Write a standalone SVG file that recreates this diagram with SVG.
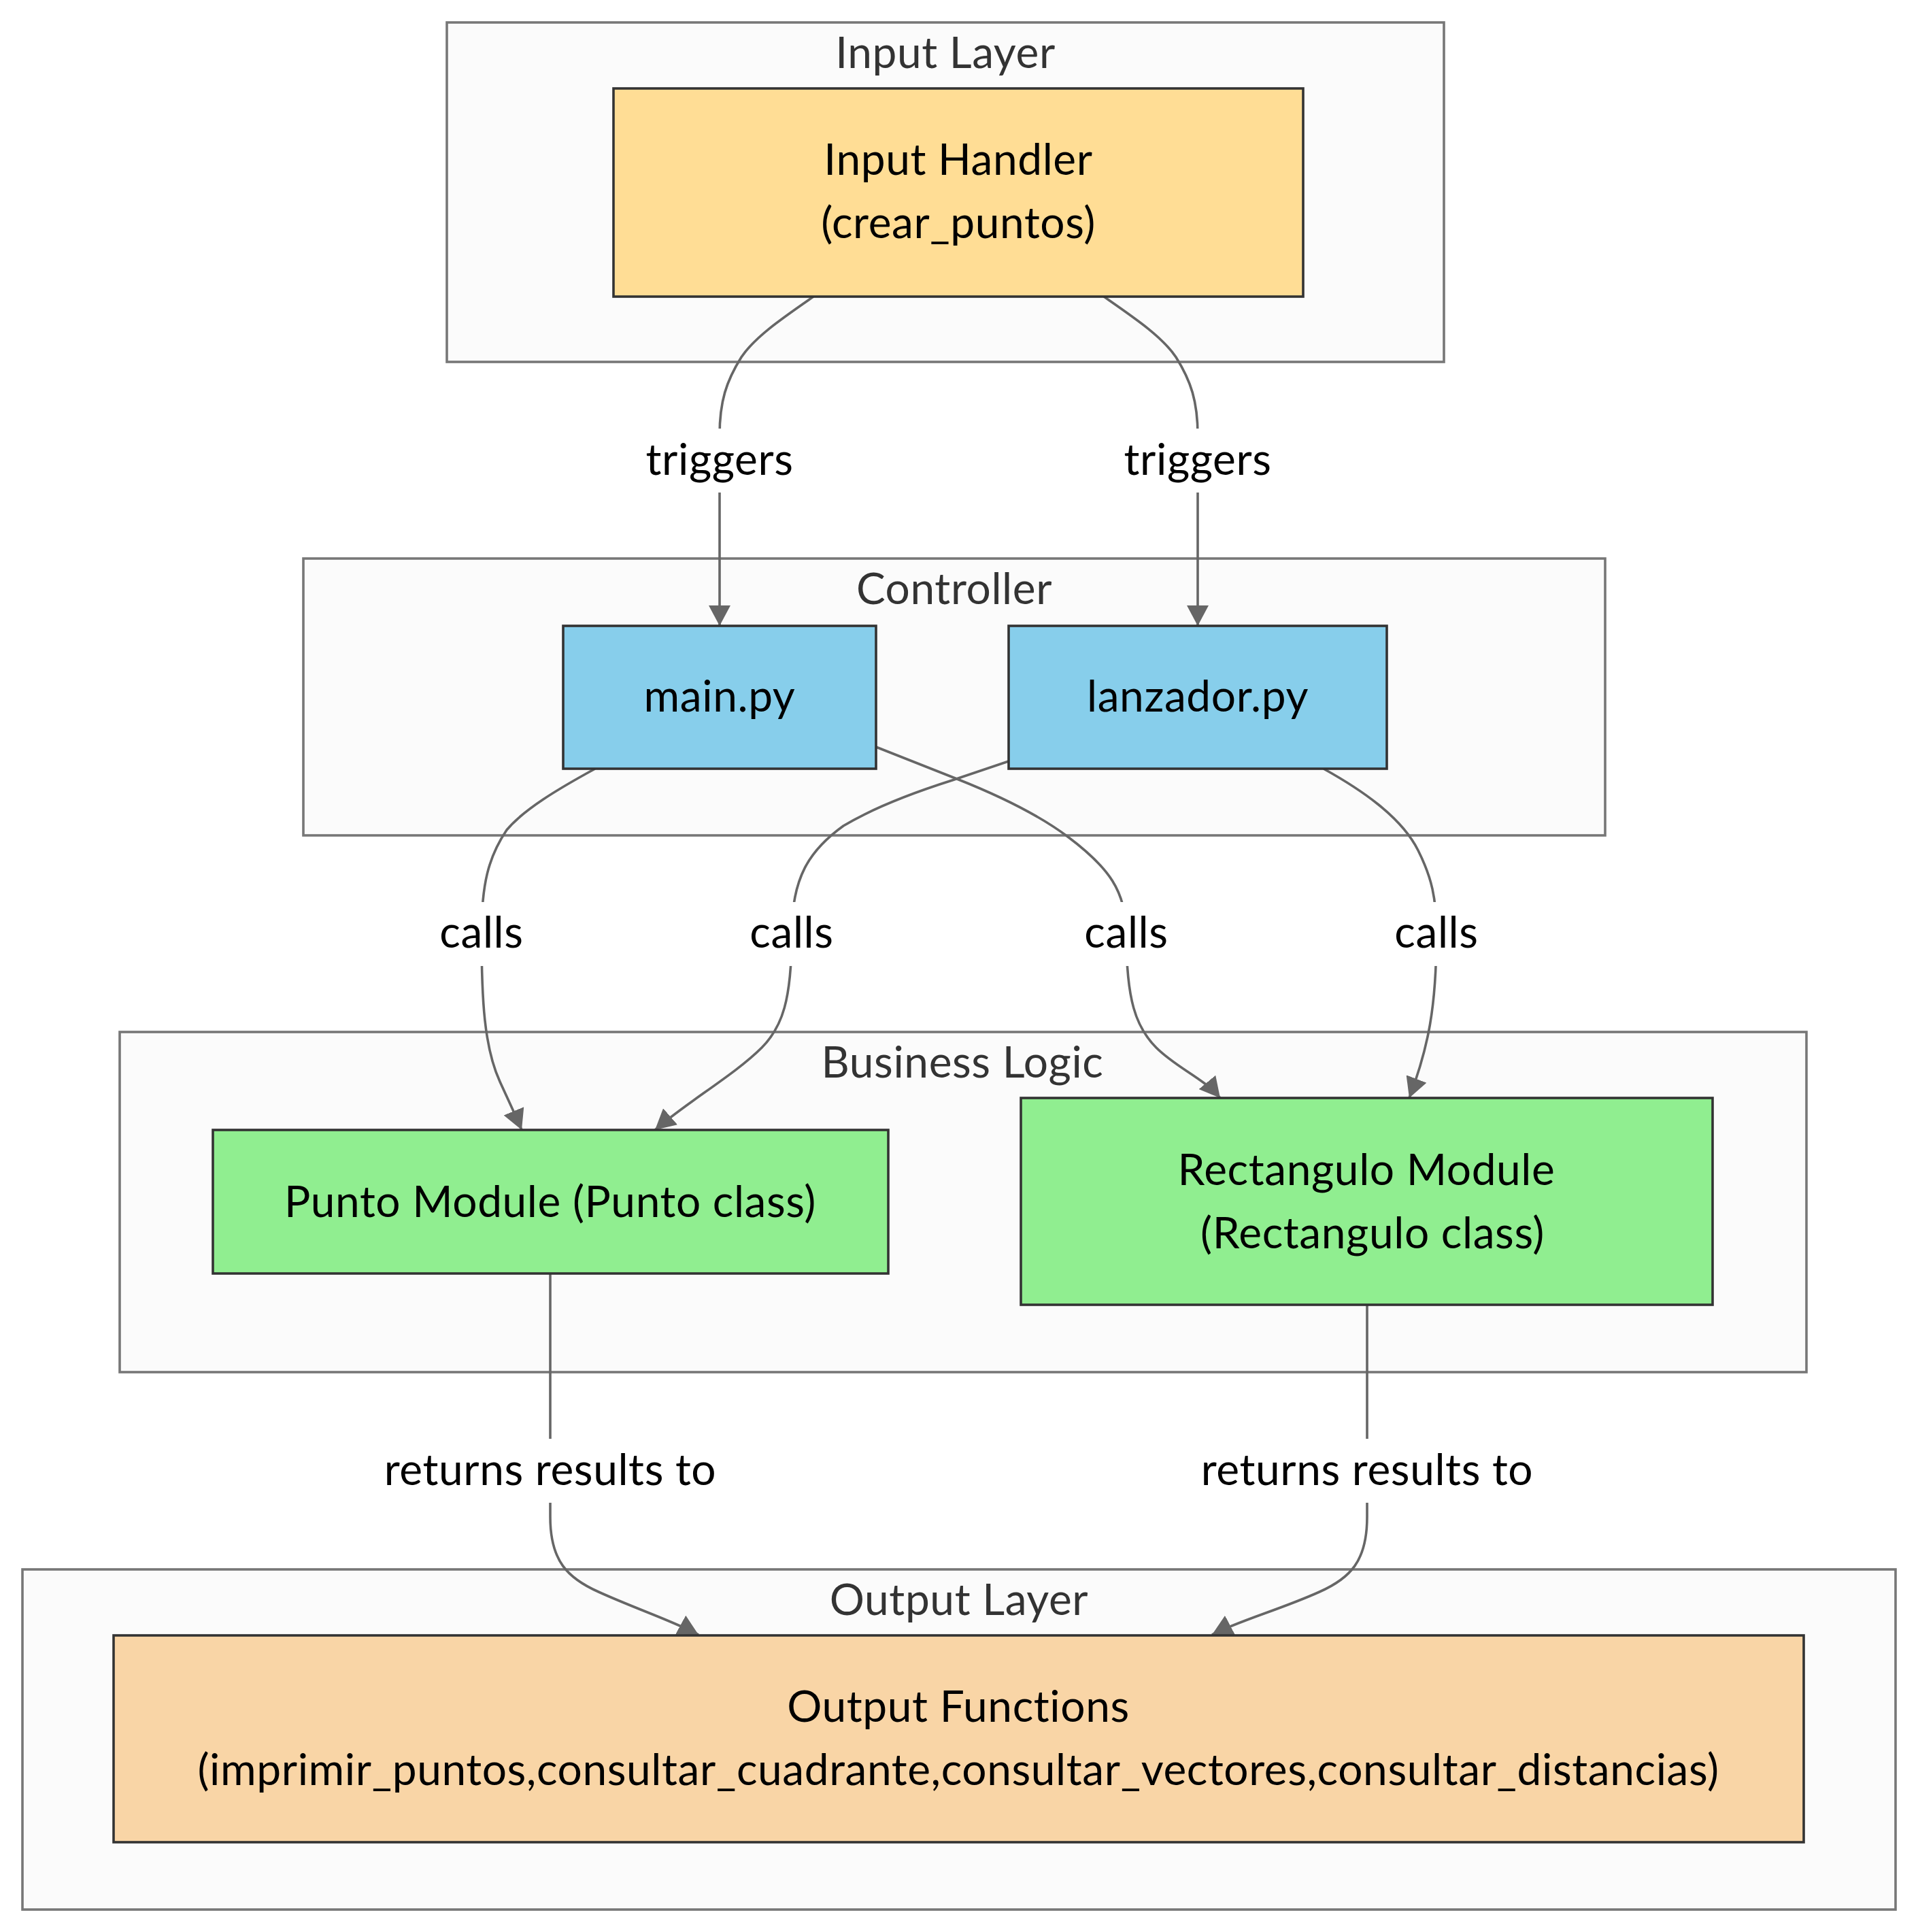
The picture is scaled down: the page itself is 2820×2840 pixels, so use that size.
<svg xmlns="http://www.w3.org/2000/svg" width="2820" height="2840" viewBox="0 0 2820 2840">
<style>
text{font-family:"Trebuchet MS",Lato,"Open Sans",sans-serif;font-size:64px;letter-spacing:0.6px;text-anchor:middle}
.cluster rect{fill:#fbfbfb;stroke:#777;stroke-width:3.6}
.cluster text{fill:#333}
.node rect{stroke:#333;stroke-width:3.6}
.node text{fill:#000}
.edge{fill:none;stroke:#666;stroke-width:3.6;marker-end:url(#arrow)}
.lbl rect{fill:#fff}
.lbl text{fill:#000}
</style>
<defs>
<marker id="arrow" viewBox="0 0 30 32" refX="30" refY="16" markerWidth="30" markerHeight="32" markerUnits="userSpaceOnUse" orient="auto">
<path d="M0,0 L30,16 L0,32 z" fill="#666"/>
</marker>
</defs>
<rect width="2820" height="2840" fill="#fff"/>
<g id="clusters">
<g id="cluster-input" class="cluster"><rect x="657" y="33" width="1466" height="499"/><text x="1390" y="100">Input Layer</text></g>
<g id="cluster-controller" class="cluster"><rect x="446" y="821" width="1914" height="407"/><text x="1403" y="888">Controller</text></g>
<g id="cluster-business" class="cluster"><rect x="176" y="1517" width="2480" height="500"/><text x="1415" y="1584">Business Logic</text></g>
<g id="cluster-output" class="cluster"><rect x="33" y="2307" width="2754" height="500"/><text x="1410" y="2374">Output Layer</text></g>
</g>
<g id="connectors">
<path class="edge" d="M1196,436 C1150,468 1110,495 1090,525 C1068,560 1058,590 1058,640 L1058,920"/>
<path class="edge" d="M1623,436 C1669,468 1709,495 1729,525 C1751,560 1761,590 1761,640 L1761,920"/>
<path class="edge" d="M875,1130 C820,1160 770,1190 745,1220 C718,1260 708,1300 708,1373 C708,1470 712,1540 735,1590 C745,1612 757,1637 767,1661"/>
<path class="edge" d="M1483,1119 L1400,1147 C1340,1166 1280,1190 1240,1214 C1190,1250 1164,1290 1164,1373 C1164,1470 1150,1510 1120,1540 C1080,1580 1010,1620 963,1661"/>
<path class="edge" d="M1288,1098 L1407,1145 C1470,1170 1530,1200 1570,1230 C1630,1275 1656,1310 1656,1373 C1656,1470 1670,1510 1700,1540 C1730,1570 1770,1585 1794,1614"/>
<path class="edge" d="M1946,1130 C2000,1160 2060,1200 2085,1250 C2105,1290 2112,1320 2112,1373 C2112,1480 2100,1540 2072,1614"/>
<path class="edge" d="M809,1872 L809,2230 C809,2295 835,2320 880,2340 C935,2365 990,2383 1027,2403"/>
<path class="edge" d="M2010,1918 L2010,2230 C2010,2295 1985,2320 1940,2340 C1885,2365 1820,2383 1782,2403"/>
<g class="lbl"><rect x="948" y="630" width="220" height="94"/><text x="1058" y="698">triggers</text></g>
<g class="lbl"><rect x="1651" y="630" width="220" height="94"/><text x="1761" y="698">triggers</text></g>
<g class="lbl"><rect x="644" y="1326" width="128" height="94"/><text x="708" y="1393">calls</text></g>
<g class="lbl"><rect x="1100" y="1326" width="128" height="94"/><text x="1164" y="1393">calls</text></g>
<g class="lbl"><rect x="1592" y="1326" width="128" height="94"/><text x="1656" y="1393">calls</text></g>
<g class="lbl"><rect x="2048" y="1326" width="128" height="94"/><text x="2112" y="1393">calls</text></g>
<g class="lbl"><rect x="562" y="2115" width="494" height="94"/><text x="809" y="2183">returns results to</text></g>
<g class="lbl"><rect x="1763" y="2115" width="494" height="94"/><text x="2010" y="2183">returns results to</text></g>
</g>
<g id="input-handler" class="node"><rect x="902" y="130" width="1014" height="306" fill="#ffdd95"/><text x="1409" y="257">Input Handler</text><text x="1409" y="350">(crear_puntos)</text></g>
<g id="main-py" class="node"><rect x="828" y="920" width="460" height="210" fill="#87ceeb"/><text x="1058" y="1046">main.py</text></g>
<g id="lanzador-py" class="node"><rect x="1483" y="920" width="556" height="210" fill="#87ceeb"/><text x="1761" y="1046">lanzador.py</text></g>
<g id="punto" class="node"><rect x="313" y="1661" width="993" height="211" fill="#90ee90"/><text x="809" y="1789">Punto Module (Punto class)</text></g>
<g id="rectangulo" class="node"><rect x="1501" y="1614" width="1017" height="304" fill="#90ee90"/><text x="2009" y="1742">Rectangulo Module</text><text x="2018" y="1835">(Rectangulo class)</text></g>
<g id="output-functions" class="node"><rect x="167" y="2404" width="2485" height="304" fill="#f9d5a6"/><text x="1409" y="2531">Output Functions</text><text x="1409" y="2624">(imprimir_puntos,consultar_cuadrante,consultar_vectores,consultar_distancias)</text></g>
</svg>
